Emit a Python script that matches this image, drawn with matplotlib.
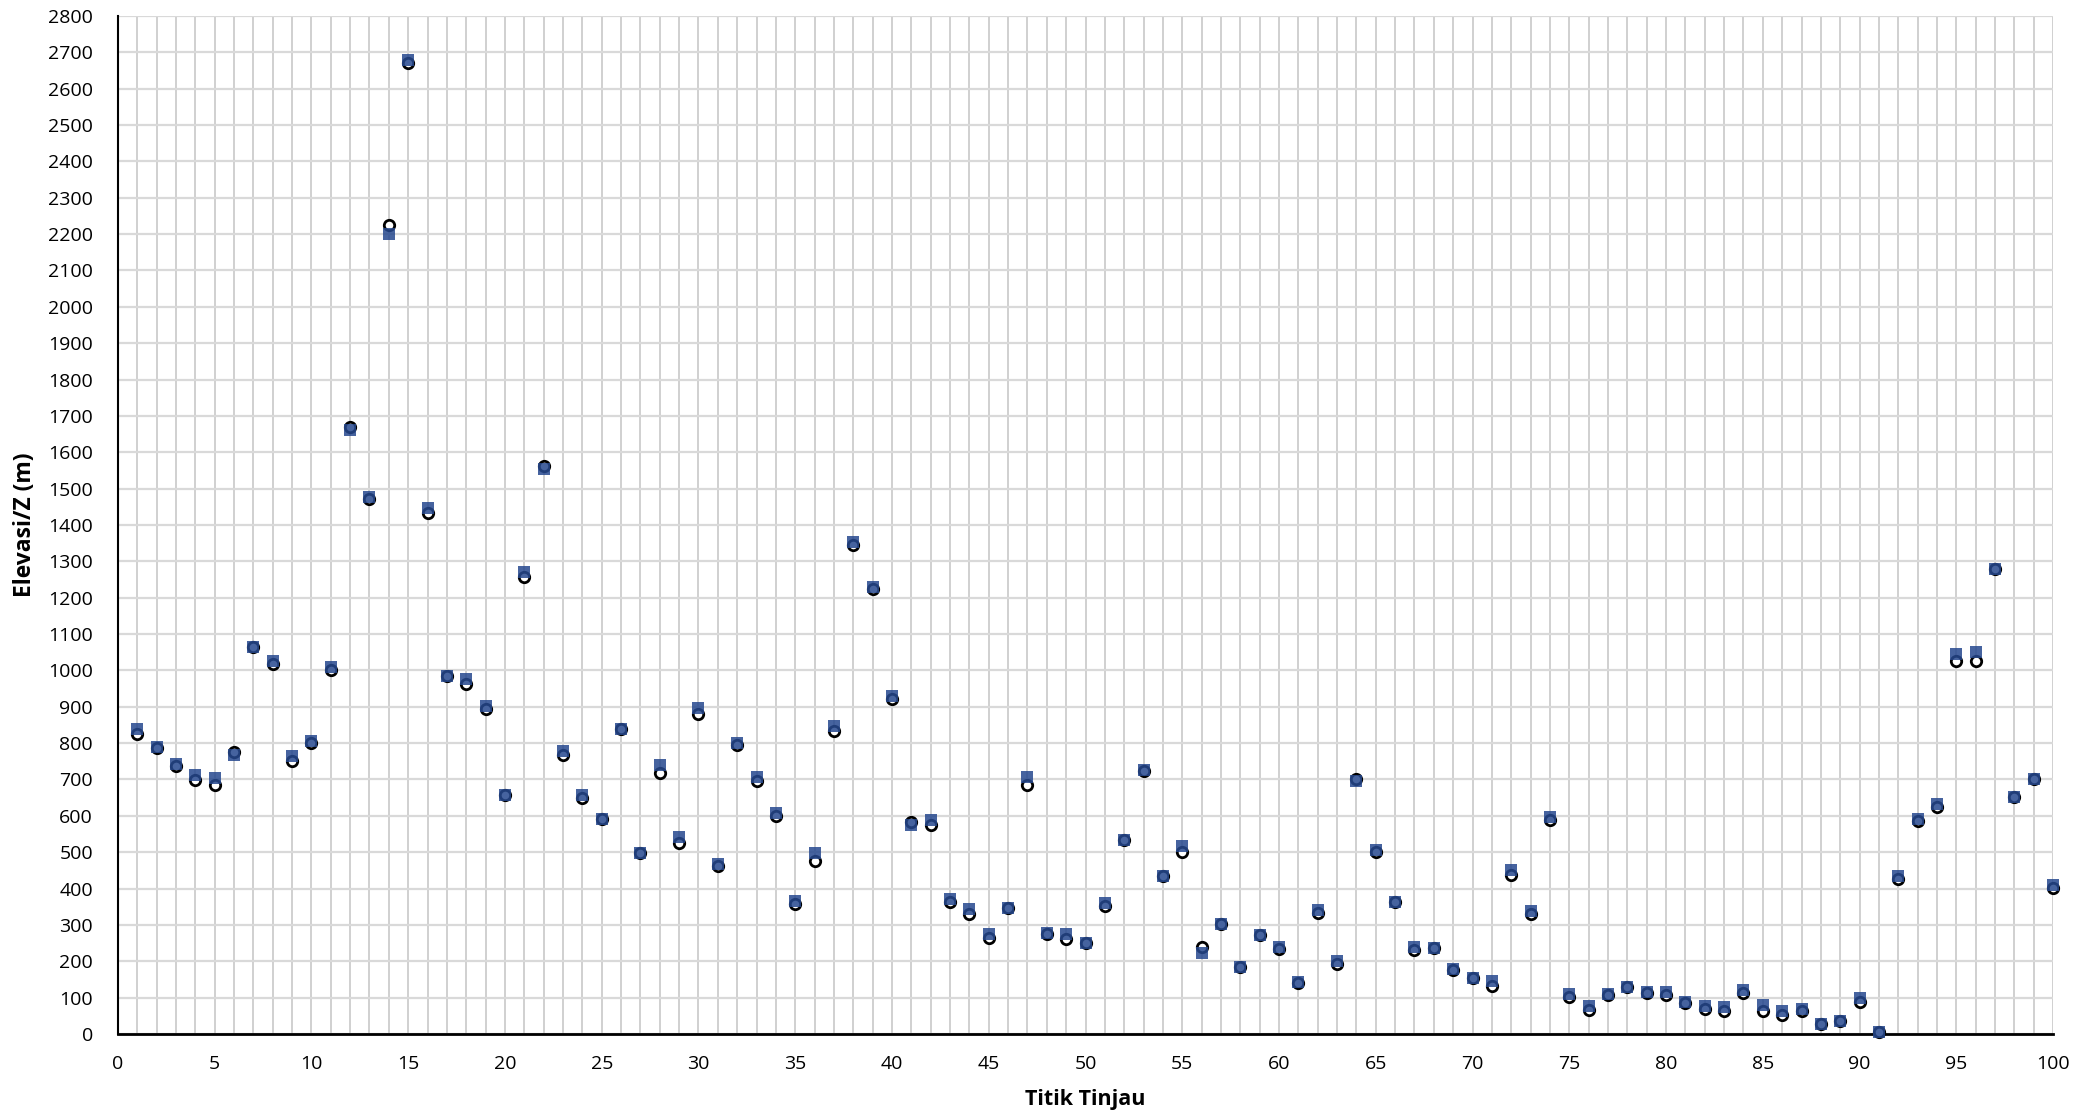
import numpy as np
import matplotlib.pyplot as plt
from matplotlib.ticker import MultipleLocator

# titik tinjau 1..100
titik = list(range(1, 101))

# series 1 (blue squares)
elev_a = [840, 790, 742, 713, 705, 767, 1063, 1027, 765, 805,
          1010, 1662, 1478, 2200, 2678, 1447, 985, 975, 902, 657,
          1270, 1553, 778, 657, 592, 840, 498, 741, 543, 896,
          468, 800, 707, 609, 366, 498, 847, 1352, 1228, 929,
          575, 589, 372, 344, 275, 346, 707, 277, 275, 249,
          360, 534, 727, 435, 516, 222, 302, 183, 272, 238,
          144, 341, 202, 695, 506, 363, 240, 236, 178, 154,
          147, 450, 339, 597, 109, 78, 110, 130, 115, 116,
          88, 77, 75, 122, 79, 64, 69, 27, 37, 98,
          6, 434, 591, 632, 1045, 1050, 1280, 653, 702, 410]

# series 2 (black open circles)
elev_b = [825, 787, 738, 698, 686, 775, 1063, 1018, 751, 800,
          1000, 1670, 1470, 2225, 2670, 1433, 985, 962, 895, 657,
          1256, 1563, 766, 650, 592, 840, 498, 718, 524, 881,
          462, 796, 697, 600, 357, 475, 832, 1345, 1224, 922,
          582, 575, 363, 330, 265, 346, 686, 276, 262, 249,
          351, 534, 723, 435, 501, 239, 302, 184, 272, 235,
          139, 334, 193, 701, 501, 363, 230, 236, 175, 154,
          131, 438, 329, 589, 101, 65, 108, 130, 113, 108,
          86, 68, 62, 112, 62, 51, 63, 27, 35, 87,
          6, 426, 585, 624, 1026, 1026, 1280, 653, 702, 401]

plt.rcParams['font.family'] = ['Open Sans', 'DejaVu Sans']

fig = plt.figure(figsize=(20.98, 11.20), dpi=100)
ax = fig.add_axes([0.0562, 0.0768, 0.9224, 0.909])

ax.plot(titik, elev_b, linestyle='none', marker='o', markersize=7.5,
        markerfacecolor='white', markeredgecolor='black', markeredgewidth=2.0,
        zorder=3, clip_on=False)
ax.plot(titik, elev_a, linestyle='none', marker='s', markersize=9,
        color='#26488E', alpha=0.85, markeredgewidth=0, zorder=4, clip_on=False)

ax.set_xlim(0, 100)
ax.set_ylim(0, 2800)
ax.xaxis.set_major_locator(MultipleLocator(5))
ax.xaxis.set_minor_locator(MultipleLocator(1))
ax.yaxis.set_major_locator(MultipleLocator(100))

ax.grid(which='both', axis='x', color='#D0D0D0', linewidth=1.4)
ax.grid(which='major', axis='y', color='#D9D9D9', linewidth=1.6)
ax.set_axisbelow(True)

ax.tick_params(which='both', length=0, labelsize=14)
ax.tick_params(axis='x', pad=15)
ax.tick_params(axis='y', pad=18)
for s in ['top', 'right']:
    ax.spines[s].set_visible(False)
ax.spines['left'].set_linewidth(1.5)
ax.spines['bottom'].set_linewidth(2)

ax.set_xlabel('Titik Tinjau', fontsize=15.5, fontweight='bold', labelpad=12)
ax.set_ylabel('Elevasi/Z (m)', fontsize=16.5, fontweight='bold', labelpad=8)

fig.savefig('out.png', dpi=100)
